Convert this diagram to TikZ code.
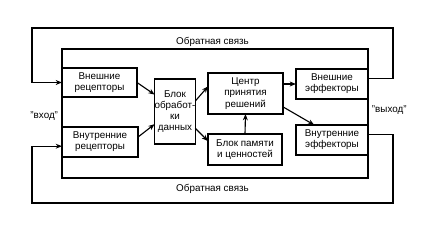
\documentclass[tikz,border=0pt]{standalone}
\usepackage{fontspec}
\setmainfont{Liberation Sans}
\usepackage{tikz}
\usetikzlibrary{arrows.meta}

\begin{document}
\begin{tikzpicture}[
    x=0.025cm,
    y=-0.025cm,
    line width=0.8pt,
    font=\fontsize{7}{8}\selectfont,
    >={Stealth[length=4.5pt,width=3.5pt]},
    blok/.style={draw, inner sep=0pt, outer sep=0pt, align=center},
    strel/.style={->}
]

    \useasboundingbox (0,0) rectangle (428,234);

    % Рамка системы
    \draw (62,49) rectangle (368,178);

    % Рецепторы
    \node[blok, minimum width=1.875cm, minimum height=0.725cm]
        (recA) at (99.5,82.5) {Внешние\\рецепторы};
    \node[blok, minimum width=1.9cm, minimum height=0.75cm]
        (recB) at (100,142) {Внутренние\\рецепторы};

    % Блок обработки
    \node[blok, minimum width=1.0cm, minimum height=1.625cm]
        (proc) at (175,111.5) {Блок\\обработ-\\ки\\данных};

    % Центр и память
    \node[blok, minimum width=1.875cm, minimum height=1.025cm]
        (dec) at (245.5,93.5) {Центр\\принятия\\решений};
    \node[blok, minimum width=1.85cm, minimum height=0.775cm]
        (mem) at (245,149.5) {Блок памяти\\и ценностей};

    % Эффекторы
    \node[blok, minimum width=1.8cm, minimum height=0.75cm]
        (effA) at (332,84) {Внешние\\эффекторы};
    \node[blok, minimum width=1.8cm, minimum height=0.75cm]
        (effB) at (332,140) {Внутренние\\эффекторы};

    % Вход и выход
    \node[anchor=east, inner sep=1pt] (vhod) at (60,116) {"вход"};
    \node[anchor=west, inner sep=1pt] (vyhod) at (370,110) {"выход"};

    % Связи
    \draw[strel] (recA.east) -- ([yshift=12pt]proc.west);
    \draw[strel] ([yshift=3.5pt]recB.east) -- ([yshift=-9pt]proc.west);
    \draw[strel] ([yshift=7.5pt]proc.east) -- ([yshift=5pt]dec.west);
    \draw[strel] ([yshift=-12pt]proc.east) -- ([yshift=6pt]mem.west);
    \draw[strel] (mem.north) -- (dec.south);
    \draw[strel] (dec.east |- effA.west) -- (effA.west);
    \draw[strel] ([yshift=-9.5pt]dec.east) -- ([xshift=13pt]effB.north west);

    % Обратная связь сверху
    \coordinate (fbAr) at (393,28);
    \coordinate (fbAl) at (32,28);
    \draw[strel] ([yshift=4pt]effA.east) -| (fbAr) -- (fbAl)
        node[midway, below=3pt] (fbtxtA) {Обратная связь}
        |- (recA.west);

    % Обратная связь снизу
    \coordinate (fbBr) at (393,203);
    \coordinate (fbBl) at (32,203);
    \draw[strel] ([yshift=4pt]effB.east) -| (fbBr) -- (fbBl)
        node[midway, above=3pt] (fbtxtB) {Обратная связь}
        |- ([yshift=-3pt]recB.west);

\end{tikzpicture}
\end{document}
